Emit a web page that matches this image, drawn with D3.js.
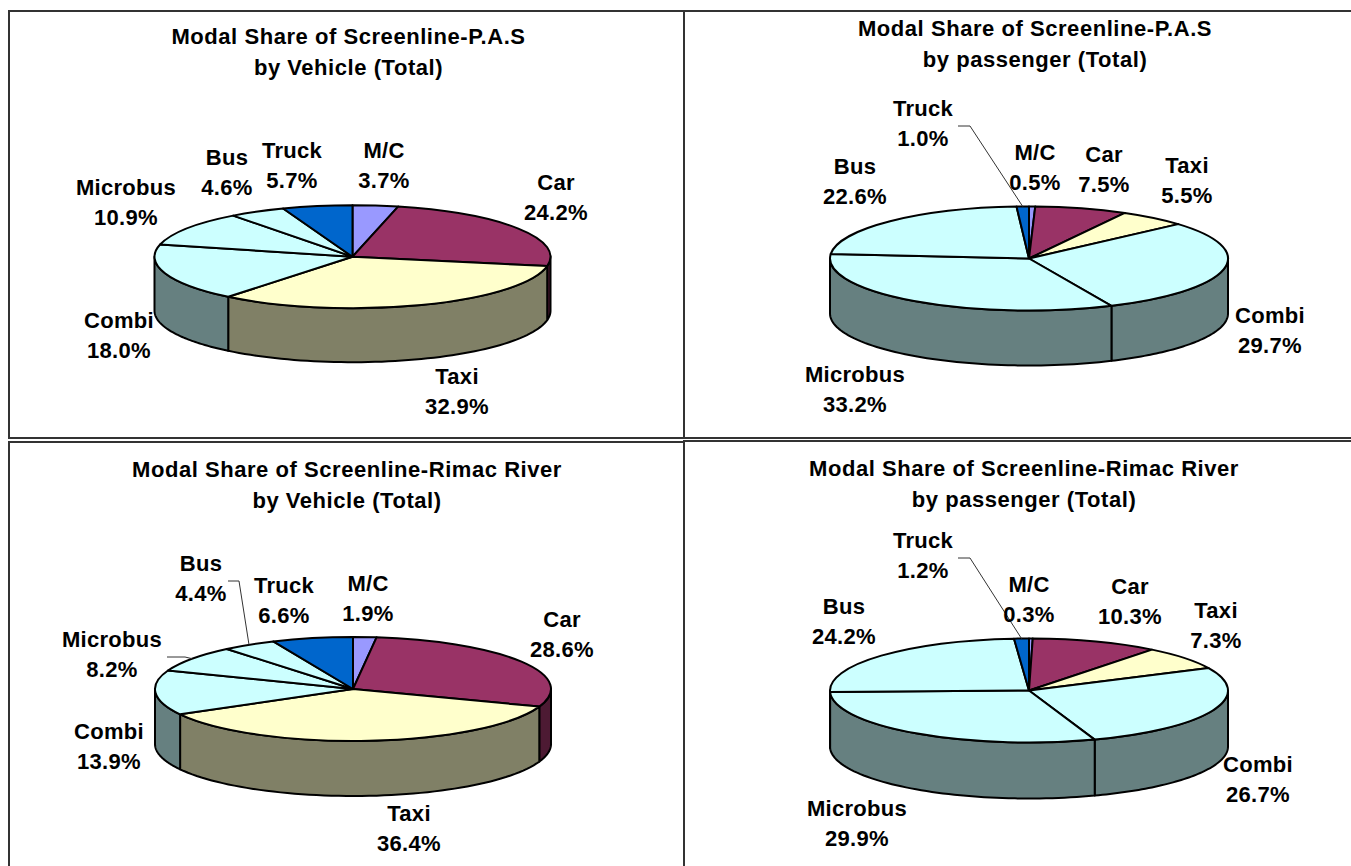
<!DOCTYPE html>
<html><head><meta charset="utf-8">
<style>html,body{margin:0;padding:0;background:#fff}svg{display:block}
text{font-family:"Liberation Sans",Arial,sans-serif;font-weight:700;font-size:22px;fill:#000;text-anchor:middle}
text.title{letter-spacing:.55px}
text.lab{letter-spacing:.3px}
</style>
<script src="https://cdn.jsdelivr.net/npm/d3@7"></script></head><body>
<script>
const categories=["M/C","Car","Taxi","Combi","Microbus","Bus","Truck"];
const titles=[
 ["Modal Share of Screenline-P.A.S","by Vehicle (Total)"],
 ["Modal Share of Screenline-P.A.S","by passenger (Total)"],
 ["Modal Share of Screenline-Rimac River","by Vehicle (Total)"],
 ["Modal Share of Screenline-Rimac River","by passenger (Total)"]];
const pasVehicle=[3.7,24.2,32.9,18.0,10.9,4.6,5.7];
const pasPassenger=[0.5,7.5,5.5,29.7,33.2,22.6,1.0];
const rimacVehicle=[1.9,28.6,36.4,13.9,8.2,4.4,6.6];
const rimacPassenger=[0.3,10.3,7.3,26.7,29.9,24.2,1.2];
const seriesValues=[pasVehicle,pasPassenger,rimacVehicle,rimacPassenger];

const topColors=["#9999FF","#993366","#FFFFCC","#CCFFFF","#CCFFFF","#CCFFFF","#0066CC"];
const sideColors=["#4D4D80","#4D1A33","#808066","#668080","#668080","#668080","#003366"];
const pieLayout=[
 {cx:352.5,cy:256.7,rx:198,ry:51.5,depth:54,titleX:348.5,titleY:[44,75]},
 {cx:1029,cy:258.5,rx:199,ry:52,depth:55,titleX:1035,titleY:[36,67]},
 {cx:353,cy:689,rx:198,ry:52,depth:55,titleX:347,titleY:[477,508]},
 {cx:1029,cy:690.5,rx:199,ry:52,depth:56,titleX:1024,titleY:[476,507]}];
// label centre x and first baseline y, in category order
const labelPos=[
 [[384,158],[556,190],[457,384],[119,328],[126,195],[227,165],[292,158]],
 [[1035,160],[1104,162],[1187,173],[1270,323],[855,382],[855,174],[923,116]],
 [[368,591],[562,627],[409,821],[109,739],[112,647],[201,571],[284,593]],
 [[1029,592],[1130,594],[1216,618],[1258,772],[857,816],[844,614],[923,548]]];
// leader polylines: elbow points, ending at the slice rim
const leaders=[
 [],
 [{cat:6,pts:[[958,126],[970,126]]}],
 [{cat:5,pts:[[228,581],[239,581]]},{cat:4,pts:[[167,657],[185,657]]}],
 [{cat:6,pts:[[958,558],[970,558]]}]];
const frames=[[9,11,675,427],[684,11,680,427],[9,442,675,440],[684,441,680,440]];

const svg=d3.select("body").append("svg").attr("width",1351).attr("height",866);
svg.selectAll("rect.frame").data(frames).join("rect").attr("class","frame")
 .attr("x",d=>d[0]).attr("y",d=>d[1]).attr("width",d=>d[2]).attr("height",d=>d[3])
 .attr("fill","none").attr("stroke","#333").attr("stroke-width",2);

const pie=d3.pie().sort(null).value(d=>d);
const HALF=Math.PI/2, END=3*Math.PI/2;
seriesValues.forEach((vals,i)=>{
 const L=pieLayout[i];
 const g=svg.append("g");
 const arcs=pie(vals);
 const px=a=>L.cx+L.rx*Math.sin(a), py=a=>L.cy-L.ry*Math.cos(a);
 // side walls, front half of the ellipse only
 const wallLine=d3.line().x(d=>d[0]).y(d=>d[1]);
 arcs.forEach((d,k)=>{
  const a0=Math.max(d.startAngle,HALF), a1=Math.min(d.endAngle,END);
  if(a1<=a0) return;
  const angles=d3.range(0,61).map(t=>a0+(a1-a0)*t/60);
  const pts=angles.map(a=>[px(a),py(a)]).concat(angles.slice().reverse().map(a=>[px(a),py(a)+L.depth]));
  g.append("path").attr("d",wallLine(pts)+"Z").attr("fill",sideColors[k])
   .attr("stroke","#000").attr("stroke-width",2).attr("stroke-linejoin","round");
 });
 // top face
 const arc=d3.arc().innerRadius(0).outerRadius(L.rx);
 g.selectAll("path.top").data(arcs).join("path").attr("class","top")
  .attr("transform",`translate(${L.cx},${L.cy}) scale(1,${L.ry/L.rx})`)
  .attr("d",arc).attr("fill",(d,k)=>topColors[k])
  .attr("stroke","#000").attr("stroke-width",2).attr("vector-effect","non-scaling-stroke").attr("stroke-linejoin","round");
 // leaders
 leaders[i].forEach(l=>{
  const d=arcs[l.cat], m=(d.startAngle+d.endAngle)/2;
  g.append("path").attr("d",d3.line()(l.pts.concat([[px(m),py(m)]])))
   .attr("fill","none").attr("stroke","#333").attr("stroke-width",1);
 });
 // title
 titles[i].forEach((t,j)=>g.append("text").attr("class","title").attr("x",L.titleX).attr("y",L.titleY[j]).text(t));
 // labels
 categories.forEach((c,k)=>{
  const [x,y]=labelPos[i][k];
  g.append("text").attr("class","lab").attr("x",x).attr("y",y).text(c);
  g.append("text").attr("class","lab").attr("x",x).attr("y",y+30).text(vals[k].toFixed(1)+"%");
 });
});
</script></body></html>
